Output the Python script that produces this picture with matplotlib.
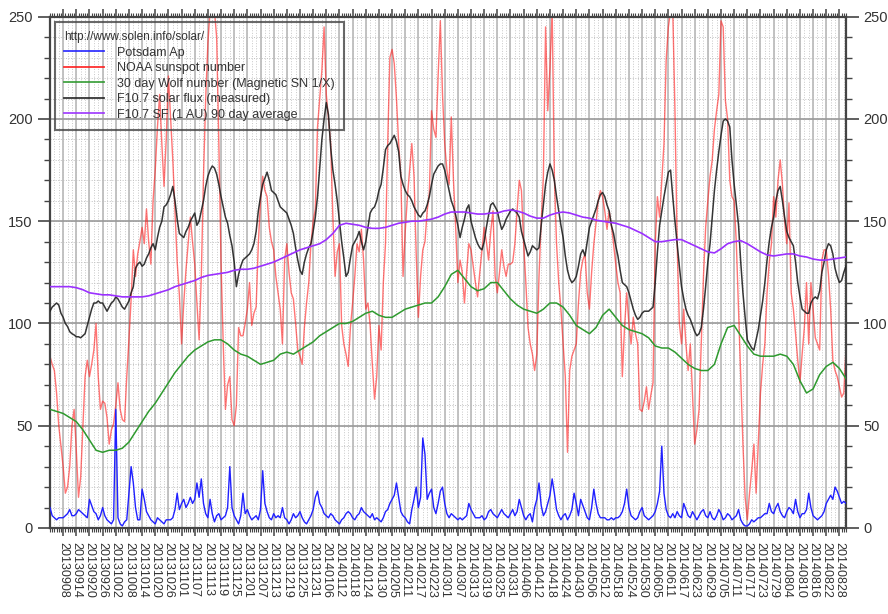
import numpy as np
import pandas as pd
import matplotlib
matplotlib.use("Agg")
import matplotlib.pyplot as plt
import matplotlib.dates as mdates
from matplotlib.ticker import MultipleLocator, FixedLocator

plt.rcParams['font.family'] = ['Liberation Sans', 'DejaVu Sans']

# daily series start 2013-09-02, smooth series sampled every 3 days
start = '2013-09-02'
tick_dates = pd.date_range('2013-09-08', '2014-08-28', freq='6D')

f107 = [
    106, 108, 109, 110, 109, 105, 103, 100, 98.5, 96, 95, 94.4,
    93.5, 93.5, 93, 94, 95, 99, 103, 107, 110, 110, 111, 110,
    110, 108, 106, 108, 110, 111, 113, 112, 110, 108, 107, 109,
    111, 115, 118, 127, 129, 130, 128, 129, 132, 134, 137, 139,
    136, 142, 147, 150, 157, 158, 160, 163, 167, 160, 151, 144,
    143, 142, 145, 147, 150, 152, 154, 148, 150, 155, 160, 167,
    172, 175, 177, 176, 173, 168, 162, 157, 152, 149, 143, 138,
    130, 118, 124, 128, 131, 132, 133, 134, 136, 139, 145, 155,
    162, 168, 171, 174, 170, 165, 164, 163, 160, 157, 156, 155,
    154, 151, 148, 144, 137, 131, 126, 124, 130, 134, 137, 139,
    145, 152, 162, 176, 190, 200, 208, 202, 186, 175, 168, 160,
    150, 140, 132, 123, 125, 132, 138, 140, 142, 145, 140, 136,
    140, 147, 154, 156, 157, 160, 165, 168, 176, 185, 187, 188,
    190, 192, 189, 184, 172, 168, 165, 163, 162, 160, 157, 155,
    153, 152, 154, 155, 158, 162, 168, 173, 175, 177, 178, 178,
    175, 170, 165, 160, 157, 153, 148, 142, 147, 151, 156, 158,
    150, 146, 142, 139, 137, 136, 140, 147, 153, 158, 159, 157,
    155, 150, 146, 148, 151, 153, 155, 156, 155, 154, 152, 145,
    141, 137, 133, 135, 138, 137, 136, 137, 148, 158, 168, 174,
    178, 175, 170, 162, 155, 148, 142, 133, 126, 122, 120, 121,
    123, 128, 134, 136, 133, 140, 147, 150, 153, 156, 160, 163,
    164, 162, 158, 155, 148, 144, 138, 133, 126, 120, 119, 118,
    115, 111, 107, 104, 102, 103, 105, 106, 106, 106, 107, 108,
    120, 135, 148, 155, 162, 168, 174, 175, 162, 150, 139, 128,
    118, 112, 107, 104, 102, 99, 96, 94, 95, 98, 107, 118,
    130, 139, 152, 165, 175, 184, 192, 199, 200, 199, 196, 180,
    168, 158, 148, 130, 115, 103, 92, 90, 88, 87, 92, 97,
    104, 111, 120, 131, 140, 147, 152, 160, 165, 167, 160, 152,
    145, 142, 140, 138, 130, 120, 113, 107, 106, 105, 105, 110,
    112, 113, 112, 116, 125, 130, 136, 139, 138, 134, 127, 123,
    120, 121, 125, 128,
]

sunspots = [
    84, 80, 77, 66, 50, 40, 30, 17, 20, 30, 50, 58,
    38, 15, 25, 50, 74, 82, 74, 80, 87, 100, 74, 58,
    62, 61, 54, 41, 48, 51, 60, 71, 58, 53, 52, 74,
    92, 112, 136, 123, 134, 140, 147, 139, 156, 140, 129, 160,
    175, 196, 212, 188, 167, 190, 221, 200, 180, 155, 130, 114,
    90, 110, 126, 139, 152, 140, 129, 110, 92, 123, 172, 210,
    237, 253, 253, 253, 240, 188, 130, 90, 58, 70, 74, 53,
    50, 60, 98, 94, 94, 100, 107, 120, 99, 105, 108, 139,
    160, 172, 165, 162, 147, 140, 136, 123, 115, 107, 90, 131,
    139, 125, 115, 112, 100, 87, 84, 80, 98, 110, 120, 139,
    150, 156, 196, 210, 224, 245, 212, 200, 188, 152, 123, 135,
    139, 99, 90, 85, 79, 98, 110, 123, 139, 135, 146, 131,
    107, 110, 99, 80, 63, 74, 99, 87, 120, 139, 188, 230,
    234, 227, 210, 188, 172, 123, 145, 162, 175, 188, 172, 134,
    103, 123, 136, 140, 155, 164, 204, 195, 191, 221, 248, 212,
    188, 175, 168, 201, 170, 147, 120, 131, 125, 110, 125, 139,
    136, 128, 120, 113, 125, 136, 147, 140, 131, 145, 155, 123,
    115, 125, 136, 128, 123, 129, 129, 130, 139, 155, 170, 165,
    139, 120, 98, 90, 85, 77, 85, 123, 150, 172, 245, 204,
    225, 253, 172, 139, 120, 107, 90, 74, 37, 77, 84, 87,
    90, 110, 125, 131, 134, 115, 107, 125, 139, 149, 160, 165,
    162, 155, 146, 155, 148, 139, 129, 120, 115, 74, 98, 115,
    100, 90, 103, 95, 90, 58, 57, 62, 69, 58, 65, 71,
    139, 162, 152, 170, 188, 229, 245, 253, 253, 204, 139, 100,
    90, 107, 90, 77, 90, 66, 41, 48, 58, 90, 123, 147,
    160, 172, 180, 195, 204, 212, 248, 245, 209, 200, 170, 162,
    160, 139, 107, 74, 41, 15, 4, 17, 28, 41, 17, 41,
    66, 80, 90, 115, 130, 139, 162, 152, 170, 180, 168, 150,
    139, 159, 115, 107, 95, 82, 71, 85, 98, 120, 90, 120,
    107, 93, 90, 87, 131, 136, 136, 124, 107, 82, 77, 74,
    69, 64, 66, 88,
]

ap = [
    10, 6, 5, 4, 5, 5, 5, 6, 7, 9, 6, 6,
    7, 9, 8, 7, 6, 5, 14, 11, 8, 7, 4, 6,
    10, 6, 4, 3, 2, 4, 58, 5, 2, 1, 3, 4,
    17, 30, 22, 10, 4, 4, 19, 14, 8, 6, 4, 3,
    2, 5, 4, 3, 2, 4, 4, 4, 5, 9, 17, 9,
    12, 14, 10, 12, 15, 12, 14, 22, 15, 24, 12, 7,
    5, 14, 7, 3, 6, 7, 4, 5, 6, 10, 30, 10,
    6, 4, 2, 6, 17, 7, 9, 6, 4, 5, 6, 4,
    9, 28, 12, 8, 5, 4, 7, 5, 6, 5, 10, 5,
    4, 2, 4, 7, 5, 6, 8, 5, 3, 2, 4, 6,
    9, 15, 18, 12, 10, 7, 6, 5, 7, 6, 4, 3,
    2, 4, 5, 7, 8, 7, 5, 4, 6, 7, 10, 8,
    7, 6, 5, 7, 4, 5, 4, 3, 5, 8, 9, 12,
    14, 16, 22, 15, 8, 6, 5, 3, 2, 9, 14, 20,
    10, 15, 44, 36, 14, 17, 19, 10, 7, 12, 18, 20,
    12, 7, 5, 7, 6, 5, 4, 5, 4, 5, 6, 12,
    9, 7, 5, 5, 5, 6, 4, 5, 8, 9, 7, 6,
    5, 7, 9, 7, 6, 5, 7, 9, 6, 8, 14, 10,
    6, 4, 6, 7, 3, 10, 14, 22, 11, 6, 8, 12,
    16, 24, 17, 9, 6, 4, 6, 7, 4, 6, 9, 17,
    12, 6, 14, 11, 8, 5, 4, 10, 19, 12, 7, 5,
    5, 5, 4, 4, 5, 4, 5, 5, 6, 8, 12, 19,
    10, 6, 5, 4, 5, 8, 10, 6, 5, 4, 5, 6,
    8, 12, 18, 40, 17, 9, 6, 5, 7, 5, 8, 6,
    5, 12, 9, 6, 5, 8, 6, 4, 6, 8, 9, 6,
    5, 8, 5, 4, 6, 9, 7, 4, 5, 7, 6, 4,
    5, 6, 9, 4, 2, 1, 1, 2, 4, 3, 4, 5,
    5, 6, 7, 7, 12, 8, 7, 10, 12, 8, 6, 5,
    8, 10, 9, 7, 14, 8, 5, 7, 7, 9, 17, 10,
    6, 5, 4, 5, 6, 8, 12, 14, 16, 14, 20, 18,
    15, 12, 13, 12,
]

wolf30 = [
    58, 57, 56, 54, 52, 48, 43, 38, 37, 38, 38, 39,
    42, 47, 52, 57, 61, 66, 71, 76, 80, 84, 87, 89,
    91, 92, 92, 90, 87, 85, 84, 82, 80, 81, 82, 85,
    86, 85, 87, 89, 91, 94, 96, 98, 100, 100, 101, 103,
    105, 106, 104, 103, 103, 105, 107, 108, 109, 110, 110, 113,
    118, 124, 126, 122, 118, 116, 117, 120, 120, 116, 112, 109,
    107, 106, 105, 107, 110, 110, 108, 104, 99, 97, 95, 98,
    104, 107, 103, 99, 97, 96, 95, 93, 89, 88, 88, 86,
    83, 80, 78, 77, 77, 80, 90, 98, 99, 94, 89, 85,
    84, 84, 84, 85, 84, 80, 72, 66, 68, 75, 79, 81,
    78, 73,
]

f107_avg90 = [
    118, 118, 118, 118, 117.5, 116.5, 115, 114.5, 114, 114, 113.5, 113,
    113, 113, 113, 113.5, 114.5, 115.5, 116.5, 118, 119, 120, 121, 122.5,
    123.5, 124, 124.5, 125, 126, 126.5, 126.5, 127, 128, 129, 130, 131.5,
    133, 134.5, 136, 137, 138, 139, 141, 144, 148, 149, 148.5, 148,
    147, 146.5, 146.5, 147, 148, 149, 149.5, 150, 150, 150.5, 151, 152,
    153.5, 154.5, 154.5, 154.5, 154, 153.5, 153.5, 154, 154, 155, 155.5, 155,
    154, 152.5, 151.5, 151.5, 153, 154, 154.5, 154, 153, 152, 151.5, 150.5,
    150, 149.5, 149, 148, 147, 145.5, 144, 142, 140, 140, 140.5, 141,
    141, 139.5, 138, 136.5, 135, 134.5, 136.5, 139, 140, 140.5, 139, 137,
    135, 133.5, 133, 133.5, 134, 134, 133, 132.5, 131.5, 131, 131, 131.5,
    132, 132.5,
]

days = pd.date_range(start, periods=len(f107), freq='D')
days3 = pd.date_range(start, periods=len(wolf30), freq='3D')

fig = plt.figure(figsize=(8.88, 6.14), dpi=100)
ax = fig.add_axes([0.0563, 0.1401, 0.8964, 0.8327])

# background grid
ax.vlines(days[::2], 0, 250, colors='#c8c8c8', linestyles=':', linewidth=0.7, zorder=0)
ax.hlines(np.arange(10, 250, 10), days[0], days[-1], colors='#c0c0c0',
          linestyles=':', linewidth=0.7, zorder=0)
ax.vlines(tick_dates, 0, 250, colors='#bdbdbd', linewidth=1.3, zorder=0.5)
ax.hlines(np.arange(50, 250, 50), days[0], days[-1], colors='#9a9a9a',
          linewidth=1.2, zorder=0.5)

ax.plot(days, ap, color='#2020ff', lw=1.0, label='Potsdam Ap', zorder=3)
ax.plot(days, sunspots, color='#ff1a1a', lw=1.0, alpha=0.6,
        label='NOAA sunspot number', zorder=2)
ax.plot(days3, wolf30, color='#2e9a2e', lw=1.1,
        label='30 day Wolf number (Magnetic SN 1/X)', zorder=3)
ax.plot(days, f107, color='#202020', lw=1.1, alpha=0.9,
        label='F10.7 solar flux (measured)', zorder=4)
ax.plot(days3, f107_avg90, color='#9b30ff', lw=1.2,
        label='F10.7 SF (1 AU) 90 day average', zorder=4)

ax.set_xlim(days[0], days[-1])
ax.set_ylim(0, 250)

ax.xaxis.set_major_locator(FixedLocator(mdates.date2num(tick_dates)))
ax.xaxis.set_minor_locator(FixedLocator(mdates.date2num(days)))
ax.set_xticklabels([d.strftime('%Y%m%d') for d in tick_dates], rotation=-90,
                   fontsize=9, color='#333333')
ax.yaxis.set_major_locator(MultipleLocator(50))
ax.yaxis.set_minor_locator(MultipleLocator(10))
ax.tick_params(axis='y', which='both', left=True, right=True,
               labelleft=True, labelright=True, labelsize=10.5,
               labelcolor='#333333', colors='#444444')
ax.tick_params(axis='y', which='major', length=9, width=1.2)
ax.tick_params(axis='y', which='minor', length=4, width=1)
ax.tick_params(axis='x', which='both', top=True, bottom=True, colors='#444444',
               labelcolor='#333333')
ax.tick_params(axis='x', which='major', length=6, width=1.1, pad=4)
ax.tick_params(axis='x', which='minor', length=3, width=0.8)

for sp in ax.spines.values():
    sp.set_color('#444444')
    sp.set_linewidth(1.6)

leg = ax.legend(loc='upper left', bbox_to_anchor=(0.006, 0.99), borderaxespad=0,
                title='http://www.solen.info/solar/', alignment='left',
                fontsize=9, title_fontsize=8.5, handlelength=3.2,
                handletextpad=1.0, labelspacing=0.28, borderpad=0.75,
                frameon=True, fancybox=False)
leg.get_frame().set_facecolor('none')
leg.get_frame().set_edgecolor('#444444')
leg.get_frame().set_linewidth(1.5)
for t in leg.get_texts():
    t.set_color('#333333')
leg.get_title().set_color('#333333')
for h in leg.get_lines():
    h.set_linewidth(1.3)
    h.set_alpha(0.9)

fig.savefig('out.png', dpi=100)
